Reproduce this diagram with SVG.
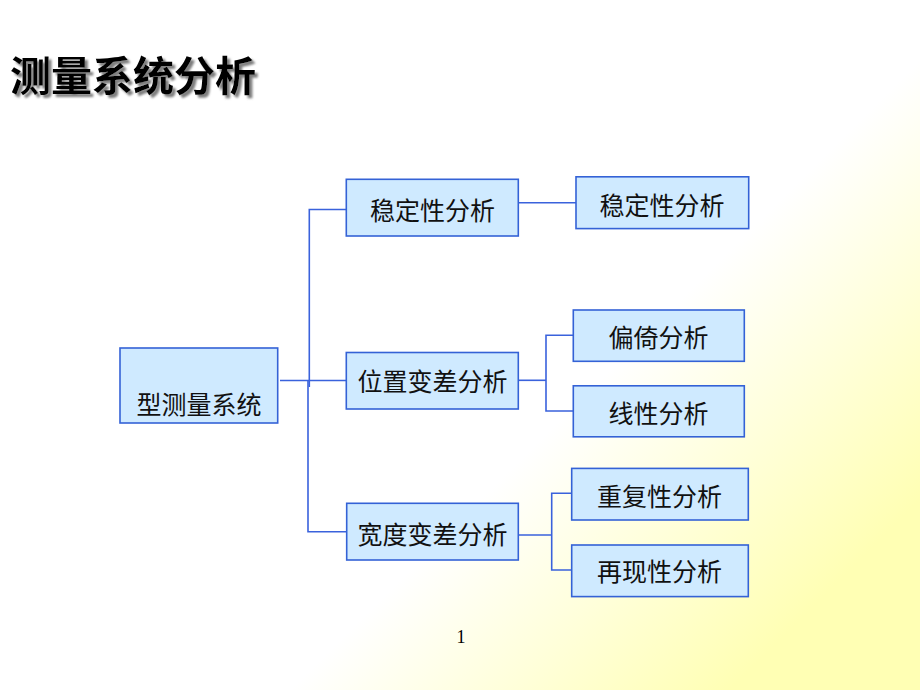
<svg xmlns="http://www.w3.org/2000/svg" width="920" height="690" viewBox="0 0 920 690">
<defs>
<linearGradient id="bg" gradientUnits="userSpaceOnUse" x1="490" y1="490" x2="710" y2="710">
<stop offset="0" stop-color="#ffffff"/>
<stop offset="1" stop-color="#ffffb4"/>
</linearGradient>
<filter id="shadow" x="-5%" y="-20%" width="115%" height="150%">
<feDropShadow dx="3" dy="3" stdDeviation="0.8" flood-color="#6f6f6f" flood-opacity="0.9"/>
</filter>
<style>
.box{fill:#cfeaff;stroke:#3462d6;stroke-width:1.6}
.lbl{font-family:"Noto Sans CJK SC","Noto Sans CJK JP",sans-serif;font-size:25px;fill:#111;text-anchor:middle}
.con{fill:none;stroke:#3a62dc;stroke-width:1.6}
.title{font-family:"Noto Sans CJK SC","Noto Sans CJK JP",sans-serif;font-size:41px;font-weight:bold}
</style>
</defs>
<rect x="0" y="0" width="920" height="690" fill="url(#bg)"/>
<g id="title">
<text class="title" x="10" y="91" fill="#000" filter="url(#shadow)">测量系统分析</text>
</g>
<g id="connectors">
<polyline class="con" points="280,380.5 346.5,380.5"/>
<polyline class="con" points="373,209.5 309.3,209.5 309.3,387"/>
<polyline class="con" points="308,380.5 308,531.7 346.7,531.7"/>
<polyline class="con" points="518.3,202.7 576,202.7"/>
<polyline class="con" points="518.3,380.3 546,380.3"/>
<polyline class="con" points="573.3,335.3 546,335.3 546,411 573.3,411"/>
<polyline class="con" points="516.7,535 551.7,535"/>
<polyline class="con" points="571.7,493.3 551.7,493.3 551.7,570 571.7,570"/>
</g>
<g id="n-root">
<rect class="box" x="120" y="348" width="157.7" height="75"/>
<text class="lbl" x="199" y="413.5">型测量系统</text>
</g>
<g id="n-stab1">
<rect class="box" x="346.3" y="179.3" width="172" height="56.7"/>
<text class="lbl" x="432.5" y="219.5">稳定性分析</text>
</g>
<g id="n-pos">
<rect class="box" x="346.3" y="352.5" width="172" height="56.5"/>
<text class="lbl" x="432.5" y="391">位置变差分析</text>
</g>
<g id="n-width">
<rect class="box" x="346.7" y="503.3" width="171.6" height="56.7"/>
<text class="lbl" x="432.5" y="543.5">宽度变差分析</text>
</g>
<g id="n-stab2">
<rect class="box" x="576" y="176.8" width="172.7" height="51.8"/>
<text class="lbl" x="662" y="214.5">稳定性分析</text>
</g>
<g id="n-bias">
<rect class="box" x="573.3" y="310" width="171" height="51.3"/>
<text class="lbl" x="658.5" y="347">偏倚分析</text>
</g>
<g id="n-linear">
<rect class="box" x="573.3" y="385.8" width="171" height="51"/>
<text class="lbl" x="658.5" y="422.5">线性分析</text>
</g>
<g id="n-repeat">
<rect class="box" x="571.7" y="468.4" width="176.6" height="51.6"/>
<text class="lbl" x="659.5" y="505.5">重复性分析</text>
</g>
<g id="n-reprod">
<rect class="box" x="571.7" y="545" width="176.6" height="51.6"/>
<text class="lbl" x="659.5" y="581">再现性分析</text>
</g>
<text x="461" y="643" font-family="Liberation Serif,serif" font-size="18" fill="#000" text-anchor="middle">1</text>
</svg>
